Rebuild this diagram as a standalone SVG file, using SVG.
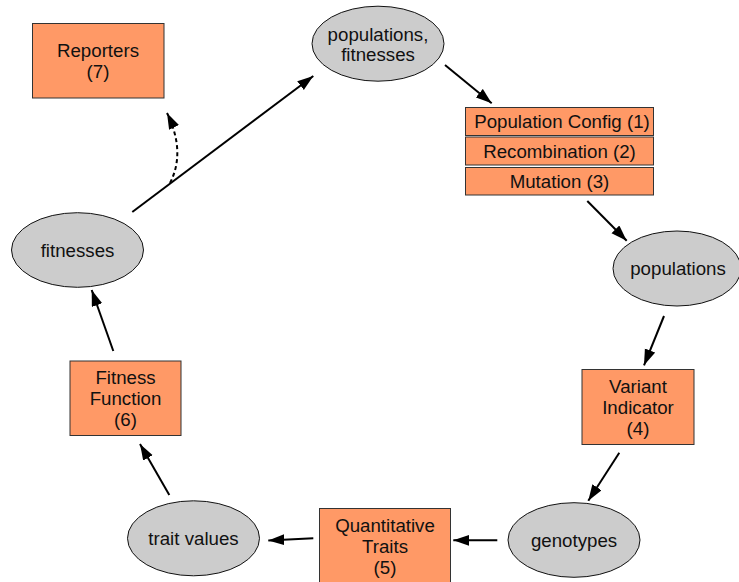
<svg xmlns="http://www.w3.org/2000/svg" width="739" height="582" viewBox="0 0 739 582">
<style>
.box{fill:#ff9966;stroke:#333;stroke-width:1}
.ell{fill:#cccccc;stroke:#111;stroke-width:1}
text{font-family:"Liberation Sans",Arial,sans-serif;font-size:18.7px;fill:#111;text-anchor:middle}
.edge{stroke:#000;stroke-width:2;fill:none;marker-end:url(#ah)}
.dash{stroke-dasharray:4,3}
</style>
<defs>
<marker id="ah" markerUnits="userSpaceOnUse" markerWidth="17" markerHeight="12" refX="16" refY="5.5" orient="auto">
<path d="M0,0 L16,5.5 L0,11 z" fill="#000"/>
</marker>
</defs>
<rect width="739" height="582" fill="#fff"/>
<g id="connectors">
<line class="edge" x1="132.3" y1="212" x2="313.3" y2="76"/>
<path class="edge dash" d="M170,183 Q186,152 167,113"/>
<line class="edge" x1="445" y1="65" x2="491.7" y2="103.3"/>
<line class="edge" x1="587.3" y1="201" x2="626.7" y2="240.7"/>
<line class="edge" x1="664" y1="316" x2="644" y2="365.3"/>
<line class="edge" x1="619.3" y1="452.7" x2="588.3" y2="500.7"/>
<line class="edge" x1="497.3" y1="540.3" x2="453.3" y2="540.3"/>
<line class="edge" x1="313.3" y1="538.3" x2="268.3" y2="540.5"/>
<line class="edge" x1="169.3" y1="495" x2="140" y2="444"/>
<line class="edge" x1="113.3" y1="351" x2="91.7" y2="290"/>
</g>
<g id="reporters">
<rect class="box" x="32.5" y="23.5" width="131.5" height="74.5"/>
<text x="98" y="57">Reporters</text>
<text x="98" y="78">(7)</text>
</g>
<g id="pop-fit">
<ellipse class="ell" cx="378" cy="43.7" rx="66" ry="37.5"/>
<text x="378" y="40.5">populations,</text>
<text x="378" y="61">fitnesses</text>
</g>
<g id="popconfig">
<rect class="box" x="465.5" y="107.5" width="188" height="28"/>
<text x="562" y="128.3">Population Config (1)</text>
</g>
<g id="recombination">
<rect class="box" x="465.5" y="137" width="188" height="28"/>
<text x="559.5" y="158">Recombination (2)</text>
</g>
<g id="mutation">
<rect class="box" x="465.5" y="167.5" width="188" height="27.5"/>
<text x="559.5" y="188">Mutation (3)</text>
</g>
<g id="populations">
<ellipse class="ell" cx="677" cy="268.5" rx="64" ry="37.5"/>
<text x="678" y="275">populations</text>
</g>
<g id="variant">
<rect class="box" x="582" y="369.5" width="112" height="75"/>
<text x="638" y="392.5">Variant</text>
<text x="638" y="413.5">Indicator</text>
<text x="638" y="434.5">(4)</text>
</g>
<g id="genotypes">
<ellipse class="ell" cx="574" cy="540" rx="66" ry="37.3"/>
<text x="574" y="546.7">genotypes</text>
</g>
<g id="quant">
<rect class="box" x="319.5" y="508.5" width="131" height="76"/>
<text x="385" y="531.7">Quantitative</text>
<text x="385" y="552.7">Traits</text>
<text x="385" y="573.7">(5)</text>
</g>
<g id="traitvalues">
<ellipse class="ell" cx="193.5" cy="538.3" rx="66" ry="37.5"/>
<text x="193.5" y="545">trait values</text>
</g>
<g id="fitnessfunction">
<rect class="box" x="70" y="361" width="111" height="74.5"/>
<text x="125.5" y="384">Fitness</text>
<text x="125.5" y="405">Function</text>
<text x="125.5" y="426">(6)</text>
</g>
<g id="fitnesses">
<ellipse class="ell" cx="77.5" cy="250" rx="66" ry="37.3"/>
<text x="77.5" y="256.7">fitnesses</text>
</g>
</svg>
